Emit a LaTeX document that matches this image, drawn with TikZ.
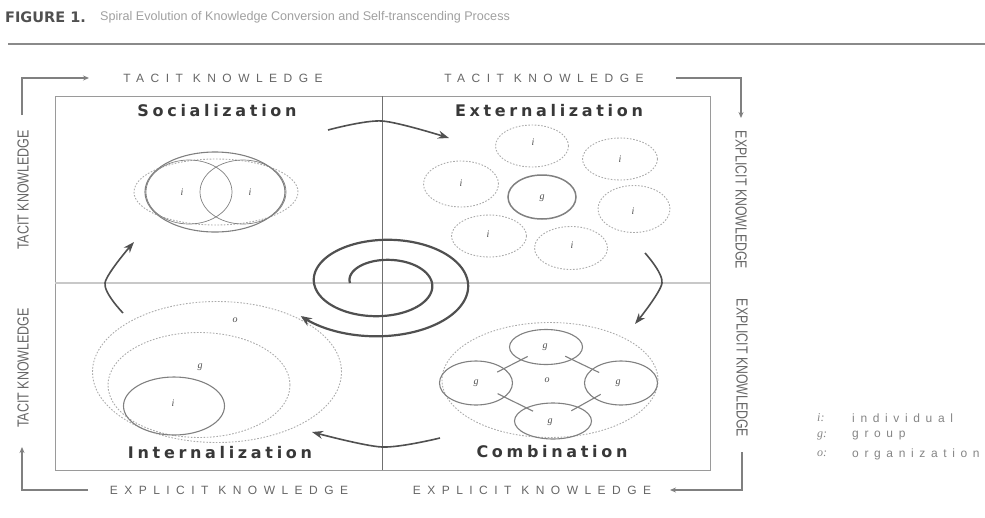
\documentclass[tikz,border=0pt]{standalone}
\usepackage{fontspec}
\setmainfont{Liberation Sans}
\newfontfamily\headfont[LetterSpace=23]{DejaVu Sans}
\newfontfamily\capfont[LetterSpace=54]{Liberation Sans}
\newfontfamily\legfont[LetterSpace=47]{Liberation Sans}
\newfontfamily\sidefont{Liberation Sans}
\newfontfamily\labfont{Liberation Serif}
\newfontfamily\figfont{DejaVu Sans}
\usetikzlibrary{shapes.geometric,arrows.meta}
\definecolor{dk}{HTML}{505050}
\definecolor{md}{HTML}{808080}
\definecolor{lt}{HTML}{ABABAB}
\definecolor{capc}{HTML}{666666}
\definecolor{legc}{HTML}{858585}
\definecolor{subc}{HTML}{A0A0A0}
\definecolor{headc}{HTML}{383838}
\definecolor{rulec}{HTML}{8A8A8A}
\definecolor{boxc}{HTML}{9A9A9A}
\definecolor{hline}{HTML}{C8C8C8}
\definecolor{vline}{HTML}{707070}
\begin{document}
\begin{tikzpicture}[x=1pt,y=-1pt,
  caplab/.style={font=\capfont\fontsize{12}{13}\selectfont, text=capc, inner sep=0pt},
  sidelab/.style={font=\sidefont\fontsize{16}{16}\selectfont, text=capc, inner sep=0pt},
  headlab/.style={font=\headfont\bfseries\fontsize{16}{17}\selectfont, text=headc, inner sep=0pt},
  leglab/.style={font=\legfont\fontsize{12}{13}\selectfont, text=legc, inner sep=0pt, anchor=west},
  legkey/.style={font=\labfont\itshape\fontsize{12}{13}\selectfont, text=legc, inner sep=0pt, anchor=west},
  solidell/.style={ellipse, draw=md, line width=1.1pt, inner sep=0pt},
  dashell/.style={ellipse, draw=lt, line width=0.9pt, dash pattern=on 1.6pt off 1.6pt, inner sep=0pt},
  ellab/.style={font=\labfont\itshape\fontsize{10}{10}\selectfont, text=dk, inner sep=0pt},
  guideline/.style={draw=md, line width=1.2pt},
  guidetip/.style={guideline, -{Stealth[length=6pt,width=5pt]}},
  cycarrow/.style={draw=dk, line width=1.6pt, -{Stealth[length=11pt,width=8pt]}},
  spiralline/.style={draw=dk, line width=2.2pt, -{Stealth[length=11pt,width=9pt]}},
  gline/.style={draw=md, line width=1.1pt, shorten <=-8pt, shorten >=-8pt}
]
\useasboundingbox (0,0) rectangle (985,517);

% title
\node[anchor=west, font=\figfont\bfseries\fontsize{14.5}{15}\selectfont, text=dk, inner sep=0pt] (fig) at (5,17) {FIGURE 1.};
\node[anchor=west, font=\fontsize{12.6}{13}\selectfont, text=subc, inner sep=0pt] (sub) at (100,17) {Spiral Evolution of Knowledge Conversion and Self-transcending Process};
\coordinate (rl) at (8,44);
\coordinate (rr) at (985,44);
\draw[line width=2.8pt, draw=rulec] (rl) -- (rr);

% frame and axes
\coordinate (b1) at (55,96);
\coordinate (b2) at (710,470);
\draw[draw=boxc, line width=1pt] (b1) rectangle (b2);
\coordinate (hl) at (55,283);
\coordinate (hr) at (710,283);
\coordinate (vt) at (382,96);
\coordinate (vb) at (382,470);
\draw[draw=hline, line width=2pt] (hl) -- (hr);
\draw[draw=vline, line width=0.8pt] (vt) -- (vb);

% quadrant headings
\node[headlab] (soc) at (217,111) {Socialization};
\node[headlab] (ext) at (549,111) {Externalization};
\node[headlab] (int) at (220,453) {Internalization};
\node[headlab] (com) at (552,452) {Combination};

% outer labels
\node[caplab] (tk1) at (223,78) {TACIT KNOWLEDGE};
\node[caplab] (tk2) at (544,78) {TACIT KNOWLEDGE};
\node[caplab] (ek1) at (229,490) {EXPLICIT KNOWLEDGE};
\node[caplab] (ek2) at (532,490) {EXPLICIT KNOWLEDGE};
\node[sidelab, rotate=90] (s1) at (23,190) {\scalebox{0.78}[1]{TACIT KNOWLEDGE}};
\node[sidelab, rotate=90] (s2) at (23,368) {\scalebox{0.78}[1]{TACIT KNOWLEDGE}};
\node[sidelab, rotate=-90] (s3) at (741,200) {\scalebox{0.77}[1]{EXPLICIT KNOWLEDGE}};
\node[sidelab, rotate=-90] (s4) at (742,368) {\scalebox{0.77}[1]{EXPLICIT KNOWLEDGE}};

% corner guides
\coordinate (tl0) at (22,115);
\coordinate (tlc) at (22,78);
\coordinate (tle) at (89,78);
\draw[guidetip] (tl0) -- (tlc) -- (tle);
\coordinate (tr0) at (676,78);
\coordinate (trc) at (741,78);
\coordinate (tre) at (741,118);
\draw[guidetip] (tr0) -- (trc) -- (tre);
\coordinate (br0) at (742,452);
\coordinate (brc) at (742,490);
\coordinate (bre) at (670,490);
\draw[guidetip] (br0) -- (brc) -- (bre);
\coordinate (bl0) at (88,490);
\coordinate (blc) at (22,490);
\coordinate (ble) at (22,447);
\draw[guidetip] (bl0) -- (blc) -- (ble);

% Socialization
\node[dashell, minimum width=164pt, minimum height=66pt] (sod) at (216,192) {};
\node[solidell, minimum width=140pt, minimum height=80pt] (sos) at (215,192) {};
\node[ellipse, draw=md, line width=0.7pt, inner sep=0pt, minimum width=86pt, minimum height=64pt] (si1) at (189,192) {};
\node[ellipse, draw=md, line width=0.7pt, inner sep=0pt, minimum width=86pt, minimum height=64pt] (si2) at (243,192) {};
\node[ellab] (si1l) at (182,192) {i};
\node[ellab] (si2l) at (250,192) {i};

% Externalization
\node[dashell, minimum width=73pt, minimum height=42pt] (e1) at (532,146) {};
\node[dashell, minimum width=75pt, minimum height=42pt] (e2) at (620,159) {};
\node[dashell, minimum width=75pt, minimum height=46pt] (e3) at (461,184) {};
\node[dashell, minimum width=72pt, minimum height=47pt] (e4) at (634,209) {};
\node[dashell, minimum width=75pt, minimum height=42pt] (e5) at (489,236) {};
\node[dashell, minimum width=73pt, minimum height=43pt] (e6) at (571,248) {};
\node[ellab] (e1l) at (533,142) {i};
\node[ellab] (e2l) at (620,159) {i};
\node[ellab] (e3l) at (461,183) {i};
\node[ellab] (e4l) at (633,211) {i};
\node[ellab] (e5l) at (488,234) {i};
\node[ellab] (e6l) at (572,245) {i};
\node[solidell, line width=1.5pt, minimum width=68pt, minimum height=44pt] (eg) at (542,197) {};
\node[ellab] (egl) at (542,198) {g};

% Combination
\node[dashell, minimum width=216pt, minimum height=115pt] (co) at (550,380) {};
\node[solidell, minimum width=73pt, minimum height=35pt] (gt) at (546,347) {};
\node[solidell, minimum width=73pt, minimum height=44pt] (gl) at (476,383) {};
\node[solidell, minimum width=73pt, minimum height=44pt] (gr) at (621,383) {};
\node[solidell, minimum width=77pt, minimum height=36pt] (gb) at (553,421) {};
\draw[gline] (gt) -- (gl);
\draw[gline] (gt) -- (gr);
\draw[gline] (gl) -- (gb);
\draw[gline] (gr) -- (gb);
\node[ellab] (gtl) at (545,347) {g};
\node[ellab] (gll) at (476,383) {g};
\node[ellab] (grl) at (618,383) {g};
\node[ellab] (gbl) at (550,422) {g};
\node[ellab] (col) at (547,380) {o};

% Internalization
\node[dashell, minimum width=249pt, minimum height=141pt] (io) at (217,372) {};
\node[dashell, minimum width=182pt, minimum height=105pt] (ig) at (199,385) {};
\node[solidell, minimum width=101pt, minimum height=58pt] (ii) at (174,406) {};
\node[ellab] (iol) at (235,320) {o};
\node[ellab] (igl) at (200,367) {g};
\node[ellab] (iil) at (173,403) {i};

% cycle arrows
\draw[cycarrow] plot[smooth] coordinates {(328,130) (382,121) (449,138)};
\draw[cycarrow] plot[smooth] coordinates {(645,253) (662,283) (635,324)};
\draw[cycarrow] plot[smooth] coordinates {(440,438) (382,447) (312,432)};
\draw[cycarrow] plot[smooth] coordinates {(123,313) (105,283) (134,242)};

% spiral
\draw[spiralline] plot[domain=0:684, samples=220, smooth] ({382-(32+0.1*\x)*cos(\x)},{283-0.56*(32+0.1*\x)*sin(\x)});

% legend
\node[legkey] (k1) at (817,418) {i:};
\node[legkey] (k2) at (817,436) {g:};
\node[legkey] (k3) at (817,454) {o:};
\node[leglab] (k1t) at (852,418) {individual};
\node[leglab] (k2t) at (852,436) {group};
\node[leglab] (k3t) at (852,454) {organization};
\end{tikzpicture}
\end{document}
